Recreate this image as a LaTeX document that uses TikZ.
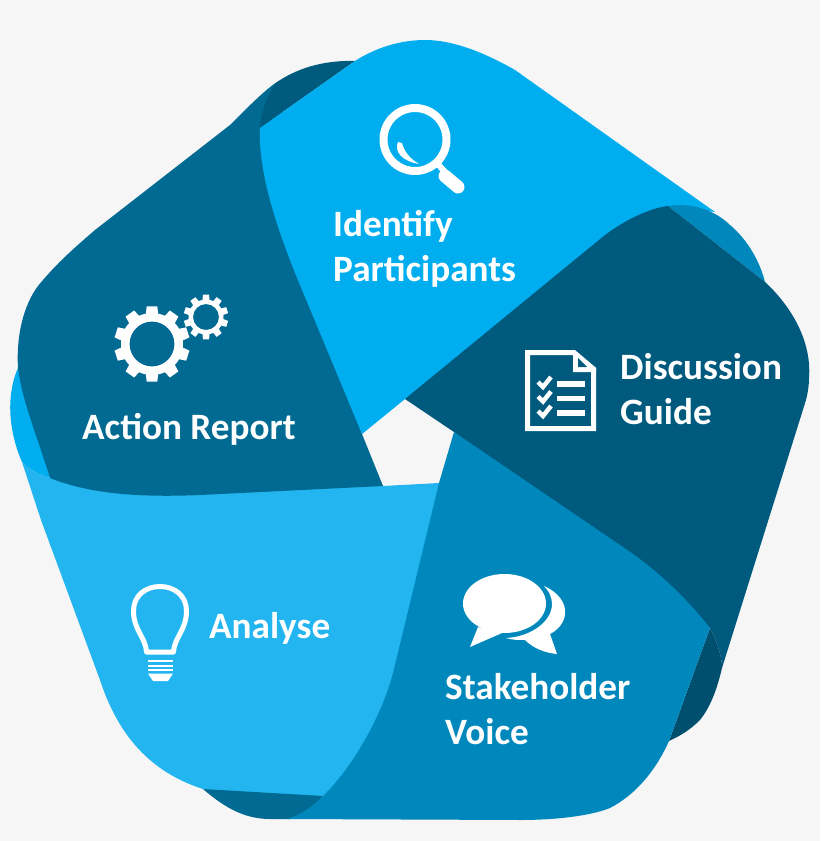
\documentclass[tikz,border=0pt]{standalone}
\usepackage{fontspec}
\setmainfont{Carlito}
\definecolor{paperbg}{HTML}{F6F6F6}
\definecolor{identifyblue}{HTML}{00AEEF}
\definecolor{discussblue}{HTML}{005A7D}
\definecolor{voiceblue}{HTML}{0088BD}
\definecolor{analyseblue}{HTML}{23B5F0}
\definecolor{actionblue}{HTML}{006A93}
\definecolor{tuckdark}{HTML}{004F6E}
\tikzset{
	stagelabel/.style={text=white,font=\bfseries\fontsize{37.2}{45}\selectfont,align=left,inner sep=0pt,anchor=west},
	iconline/.style={draw=white,line join=round},
	iconfill/.style={fill=white}
}

\begin{document}
\begin{tikzpicture}[x=1pt,y=-1pt]
		\useasboundingbox[fill=paperbg] (0,0) rectangle (820,841);
		% tucked ends and ribbons
		\fill[identifyblue] (18,368) .. controls (8,390) and (6,425) .. (22,462) .. controls (30,470) and (40,475) .. (50,478) -- cycle;
		\fill[analyseblue] (439,483) -- (383,486) -- (100,480) -- (50,478) .. controls (40,475) and (30,470) .. (22,462) -- (41,520) -- (100,680) .. controls (118,735) and (150,772) .. (203,789) .. controls (240,796) and (280,797) .. (323,796) -- (450,700) -- cycle;
		\fill[actionblue] (203,789) .. controls (225,808) and (245,819) .. (270,819) -- (290,819) .. controls (305,815) and (315,806) .. (323,796) -- cycle;
		\fill[actionblue] (18,368) .. controls (16,335) and (24,300) .. (43,280) .. controls (60,260) and (80,243) .. (95,230) -- (230,125) .. controls (250,105) and (265,90) .. (277,82) -- (300,200) -- (362,434) -- (383,486) -- (200,495) .. controls (130,498) and (85,492) .. (50,478) .. controls (35,430) and (22,400) .. (18,368) -- cycle;
		\fill[discussblue] (355,61) .. controls (320,60) and (295,70) .. (277,82) .. controls (267,95) and (261,112) .. (260,128) -- cycle;
		\fill[identifyblue] (362,434) -- (405,399) -- (668,206) -- (715,212) -- (515,70) .. controls (480,50) and (450,40) .. (425,40) .. controls (400,40) and (375,48) .. (355,61) -- (260,128) .. controls (258,170) and (275,225) .. (300,285) -- cycle;
		\fill[voiceblue] (668,206) .. controls (690,202) and (715,210) .. (730,225) .. controls (748,240) and (760,262) .. (765,282) -- cycle;
		\fill[discussblue] (405,399) -- (605,235) .. controls (625,220) and (650,208) .. (668,206) -- (765,282) .. controls (790,305) and (812,340) .. (809,378) .. controls (809,385) and (808,392) .. (806,400) -- (722,668) .. controls (722,655) and (716,640) .. (710,628) -- (454,432) -- cycle;
		\fill[tuckdark] (710,628) .. controls (716,640) and (722,655) .. (722,668) .. controls (718,685) and (712,705) .. (700,720) .. controls (690,730) and (680,736) .. (669,741) -- cycle;
		\fill[voiceblue] (439,483) -- (395,665) .. controls (385,710) and (355,765) .. (323,796) .. controls (313,806) and (303,814) .. (287,819) -- (520,820) .. controls (555,820) and (590,816) .. (610,808) .. controls (635,795) and (655,772) .. (669,741) -- (710,628) .. controls (680,590) and (650,565) .. (620,545) -- (454,432) -- cycle;

		% magnifier
		\draw[iconline,line width=8] (415,139.5) circle[radius=31.5];
		\draw[iconline,line width=6] (436,162) -- (445,172);
		\draw[iconline,line width=13,line cap=round] (445,176) -- (458,187);
		\fill[iconfill] (398,142) .. controls (394,152) and (402,161) .. (419,164) .. controls (409,158) and (404,151) .. (402,143) -- cycle;

		% gears
		\foreach \gx/\gy/\rhole/\rbody/\rtip in {152/344/22.5/31/38,206/317/13/17.5/22.5}{
			\fill[iconfill,even odd rule] (\gx,\gy) circle[radius=\rbody] (\gx,\gy) circle[radius=\rhole];
			\foreach \a in {18,54,...,342}
				\fill[iconfill,shift={(\gx,\gy)}] (\a-12:\rbody-1) -- (\a-8:\rtip) -- (\a+8:\rtip) -- (\a+12:\rbody-1) -- cycle;
		}

		% checklist
		\draw[iconline,line width=5,line join=miter] (527.5,352.5) -- (574,352.5) -- (593.5,369) -- (593.5,428.5) -- (527.5,428.5) -- cycle;
		\fill[iconfill] (573,350) -- (596,368) -- (596,372) -- (573,372) -- cycle;
		\fill[discussblue] (578,358) -- (578,367) -- (587,367) -- cycle;
		\foreach \rowy in {383,397.5,412}{
			\draw[iconline,line width=4.5,line join=miter] (538,\rowy-1) -- (543,\rowy+4) -- (551,\rowy-6);
			\draw[iconline,line width=5.5] (557,\rowy+1) -- (585,\rowy+1);
		}

		% speech bubbles
		\fill[iconfill] (504.5,603.5) ellipse[x radius=41.5,y radius=29.5];
		\fill[iconfill] (478,627) -- (470,647) -- (502,633) -- cycle;
		\fill[iconfill] (544,586) .. controls (558,592) and (566,603) .. (565,613) .. controls (565,622) and (558,630) .. (550,634) -- (557,654) .. controls (545,653) and (533,648) .. (525,640) .. controls (518,640) and (512,640) .. (506,638) .. controls (530,637) and (552,622) .. (552,604) .. controls (552,597) and (549,591) .. (544,586) -- cycle;

		% bulb
		\draw[iconline,line width=5] (146.5,652) .. controls (146,638) and (133.5,630) .. (133.5,611) .. controls (133.5,596) and (145,586.5) .. (160,586.5) .. controls (175,586.5) and (186.5,596) .. (186.5,611) .. controls (186.5,630) and (174,638) .. (173.5,652) -- cycle;
		\foreach \screwy in {661,666,670}
			\draw[iconline,line width=2.5] (148,\screwy) -- (173,\screwy);
		\fill[iconfill] (148,673.5) -- (173,673.5) -- (168,681) -- (153,681) -- cycle;

		% labels
		\node[stagelabel] (identify) at (333,249) {Identify\\Participants};
		\node[stagelabel] (discussion) at (620,389) {Discussion\\Guide};
		\node[stagelabel] (stakeholder) at (445,709) {Stakeholder\\Voice};
		\node[stagelabel] (analyse) at (209,628) {Analyse};
		\node[stagelabel] (action) at (82,429) {Action Report};
	\end{tikzpicture}
\end{document}
